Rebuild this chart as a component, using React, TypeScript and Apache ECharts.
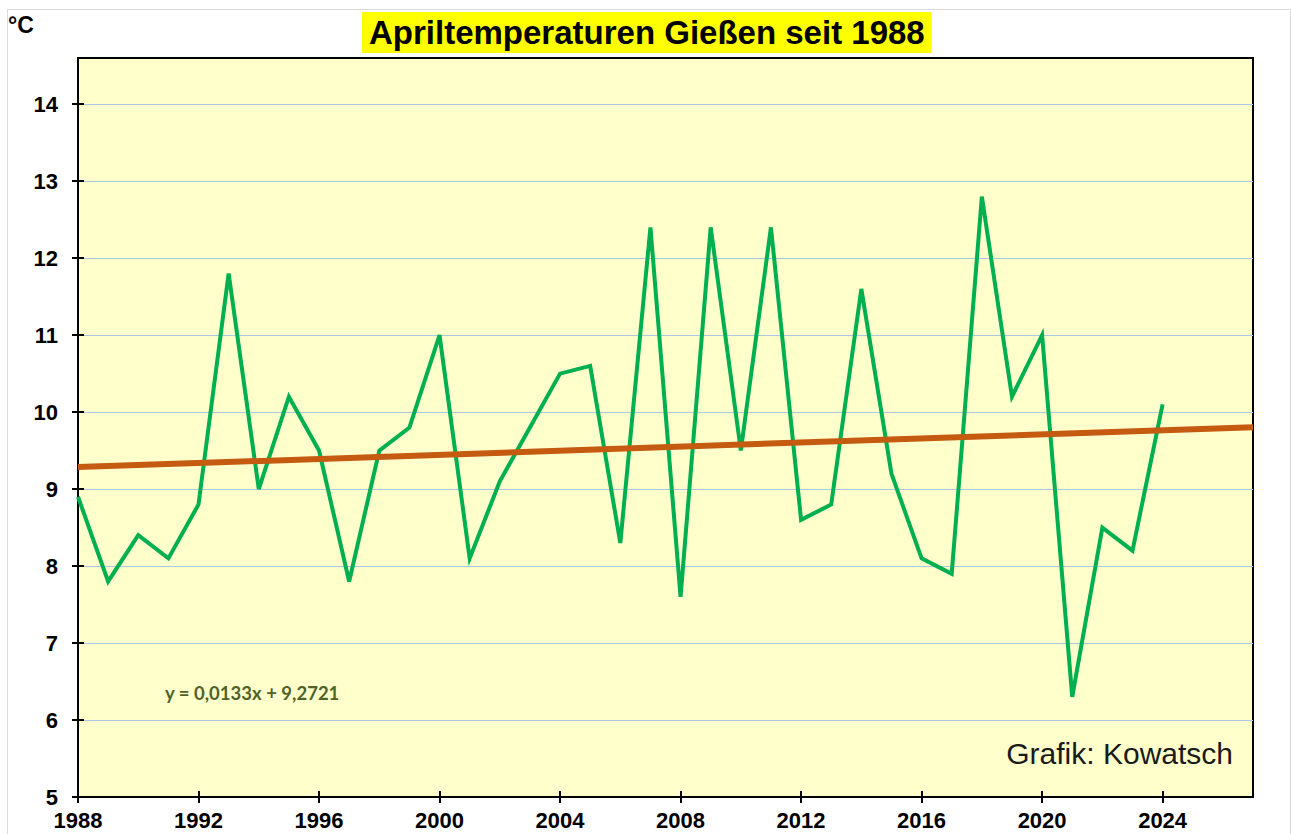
import React, { useEffect, useRef } from "react";
import * as echarts from "echarts";

const years = [
  1988, 1989, 1990, 1991, 1992, 1993, 1994, 1995, 1996, 1997, 1998, 1999,
  2000, 2001, 2002, 2003, 2004, 2005, 2006, 2007, 2008, 2009, 2010, 2011,
  2012, 2013, 2014, 2015, 2016, 2017, 2018, 2019, 2020, 2021, 2022, 2023, 2024,
];
const temps = [
  8.9, 7.8, 8.4, 8.1, 8.8, 11.8, 9.0, 10.2, 9.5, 7.8, 9.5, 9.8,
  11.0, 8.1, 9.1, 9.8, 10.5, 10.6, 8.3, 12.4, 7.6, 12.4, 9.5, 12.4,
  8.6, 8.8, 11.6, 9.2, 8.1, 7.9, 12.8, 10.2, 11.0, 6.3, 8.5, 8.2, 10.1,
];
const xTicks = [1988, 1992, 1996, 2000, 2004, 2008, 2012, 2016, 2020, 2024];
const yTicks = [5, 6, 7, 8, 9, 10, 11, 12, 13, 14];
const trendSlope = 0.0133;
const trendIntercept = 9.2721;
const trendYears = [1988, 2027];

const titleText = "Apriltemperaturen Gießen seit 1988";
const equationText = "y = 0,0133x + 9,2721";
const creditText = "Grafik: Kowatsch";
const unitText = "°C";

export default function App() {
  const ref = useRef<HTMLDivElement>(null);
  useEffect(() => {
    if (!ref.current) return;
    const chart = echarts.init(ref.current, null, { renderer: "svg" });
    const font = "Liberation Sans, Arial, sans-serif";
    const trendData = trendYears.map((y) => [y, trendIntercept + trendSlope * (y - 1987)]);
    const xBase = { type: "value", min: 1988, max: 2027, position: "bottom" };
    const yBase = { type: "value", min: 5, max: 14.6, position: "left" };
    chart.setOption({
      animation: false,
      backgroundColor: "#ffffff",
      title: {
        text: titleText,
        left: 362,
        top: 12,
        padding: [3, 7],
        backgroundColor: "#FFFF00",
        textStyle: { fontSize: 33, fontWeight: "bold", fontFamily: font, color: "#000", lineHeight: 35 },
      },
      grid: {
        left: 78,
        right: 38,
        top: 58,
        bottom: 37,
        show: true,
        backgroundColor: "#FFFFCC",
        borderColor: "#000",
        borderWidth: 2,
        containLabel: false,
      },
      xAxis: [
        {
          ...xBase,
          axisLine: { show: true, lineStyle: { color: "#000", width: 2 } },
          axisTick: { show: true, inside: false, length: 6, customValues: xTicks, lineStyle: { color: "#000", width: 2 } },
          axisLabel: {
            customValues: xTicks,
            formatter: (v: number) => String(v),
            margin: 12,
            fontSize: 22,
            fontWeight: "bold",
            fontFamily: font,
            color: "#000",
          },
          splitLine: { show: false },
        },
        {
          ...xBase,
          axisLine: { show: false },
          axisTick: { show: true, inside: true, length: 6, customValues: xTicks, lineStyle: { color: "#000", width: 2 } },
          axisLabel: { show: false },
          splitLine: { show: false },
        },
      ],
      yAxis: [
        {
          ...yBase,
          axisLine: { show: true, lineStyle: { color: "#000", width: 2 } },
          axisTick: { show: true, inside: false, length: 6, customValues: yTicks, lineStyle: { color: "#000", width: 2 } },
          axisLabel: {
            customValues: yTicks,
            formatter: (v: number) => String(v),
            margin: 20,
            fontSize: 22,
            fontWeight: "bold",
            fontFamily: font,
            color: "#000",
          },
          splitLine: { show: true, lineStyle: { color: "#A9C9E2", width: 1 } },
        },
        {
          ...yBase,
          axisLine: { show: false },
          axisTick: { show: true, inside: true, length: 6, customValues: yTicks, lineStyle: { color: "#000", width: 2 } },
          axisLabel: { show: false },
          splitLine: { show: false },
        },
      ],
      series: [
        {
          type: "line",
          data: years.map((y, i) => [y, temps[i]]),
          showSymbol: false,
          lineStyle: { color: "#00B050", width: 4, join: "miter" },
          z: 3,
        },
        {
          type: "line",
          data: trendData,
          showSymbol: false,
          lineStyle: { color: "#C55A11", width: 6 },
          z: 4,
        },
      ],
      graphic: [
        {
          type: "rect",
          shape: { x: 7.5, y: 9.5, width: 1283, height: 840 },
          style: { fill: "none", stroke: "#D9D9D9", lineWidth: 1 },
          silent: true,
          z: -10,
        },
        {
          type: "text",
          left: 8,
          top: 13,
          style: { text: unitText, font: `bold 23px ${font}`, fill: "#000" },
        },
        {
          type: "text",
          left: 165,
          top: 683,
          style: { text: equationText, font: `bold 18.5px Lato, sans-serif`, fill: "#4F6228" },
          z: 10,
        },
        {
          type: "text",
          right: 58,
          top: 738,
          style: { text: creditText, font: `30px ${font}`, fill: "#1a1a1a" },
          z: 10,
        },
      ],
    });
    return () => chart.dispose();
  }, []);
  return (
    <div
      ref={ref}
      style={{ position: "fixed", left: 0, top: 0, width: 1291, height: 834 }}
    />
  );
}
